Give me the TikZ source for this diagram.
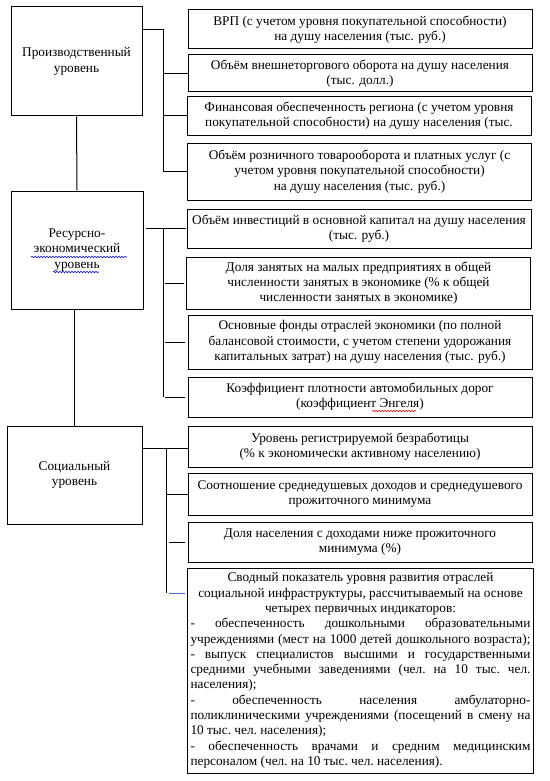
\documentclass[tikz,border=0pt]{standalone}
\usepackage{fontspec}
\setmainfont{Liberation Serif}
\usetikzlibrary{calc,decorations.pathmorphing}
\definecolor{wblue}{RGB}{68,114,196}
\newcommand\jl[1]{\makebox[340pt][s]{#1}}
\newcommand\cl[1]{\makebox[340pt][c]{#1}}
\newcommand\lfl[1]{\makebox[340pt][l]{#1}}
\begin{document}
\begin{tikzpicture}[x=1pt,y=-1pt,
  every node/.style={font=\fontsize{13.3}{15.3}\selectfont},
  lbox/.style={draw, line width=1pt, align=center, inner sep=2pt},
  rbox/.style={draw, line width=1pt, align=center, inner sep=1pt, minimum width=344pt},
  conn/.style={line width=1pt},
  spell/.style={line width=0.6pt, decorate, decoration={snake, amplitude=0.7pt, segment length=3pt}}]
\useasboundingbox (0,0) rectangle (549,781);

% left level boxes
\node[lbox, minimum width=131pt, minimum height=109pt] (P) at (76.5,61.5) {Производственный\\уровень};
\node[lbox, minimum width=132pt, minimum height=118pt] (R) at (77,250) {Ресурсно-\\экономический\\уровень};
\node[lbox, minimum width=135pt, minimum height=98pt] (S) at (74.5,475) {Социальный\\уровень};

% right indicator boxes
\node[rbox, minimum height=39pt] (b1) at (360,29.5) {ВРП (с учетом уровня покупательной способности)\\на душу населения (тыс. руб.)};
\node[rbox, minimum height=37pt] (b2) at (360,73.5) {Объём внешнеторгового оборота на душу населения\\(тыс. долл.)};
\node[rbox, minimum height=38pt] (b3) at (359,116) {Финансовая обеспеченность региона (с учетом уровня\\покупательной способности) на душу населения (тыс.};
\node[rbox, minimum height=57pt] (b4) at (359.5,171.5) {Объём розничного товарооборота и платных услуг (с\\учетом уровня покупательной способности)\\на душу населения (тыс. руб.)};
\node[rbox, minimum height=39pt] (b5) at (359,228.5) {Объём инвестиций в основной капитал на душу населения\\(тыс. руб.)};
\node[rbox, minimum height=52pt] (b6) at (358.5,283) {Доля занятых на малых предприятиях в общей\\численности занятых в экономике (\% к общей\\численности занятых в экономике)};
\node[rbox, minimum height=54pt] (b7) at (360,342) {Основные фонды отраслей экономики (по полной\\балансовой стоимости, с учетом степени удорожания\\капитальных затрат) на душу населения (тыс. руб.)};
\node[rbox, minimum height=40pt] (b8) at (360,397) {Коэффициент плотности автомобильных дорог\\(коэффициент Энгеля)};
\node[rbox, minimum height=41pt] (b9) at (360,446.5) {Уровень регистрируемой безработицы\\(\% к экономически активному населению)};
\node[rbox, minimum height=42pt] (b10) at (360,494) {Соотношение среднедушевых доходов и среднедушевого\\прожиточного минимума};
\node[rbox, minimum height=40pt] (b11) at (360,542) {Доля населения с доходами ниже прожиточного\\минимума (\%)};
\node[draw, line width=1pt, minimum width=346pt, minimum height=205pt, text width=340pt, align=left, inner sep=0pt] (b12) at (360.5,670.5) {%
\spaceskip=0pt\xspaceskip=0pt\frenchspacing
\cl{Сводный показатель уровня развития отраслей}\\
\cl{социальной инфраструктуры, рассчитываемый на основе}\\
\cl{четырех первичных индикаторов:}\\
\jl{- обеспеченность дошкольными образовательными}\\
\jl{учреждениями (мест на 1000 детей дошкольного возраста);}\\
\jl{- выпуск специалистов высшими и государственными}\\
\jl{средними учебными заведениями (чел. на 10 тыс. чел.}\\
\lfl{населения);}\\
\jl{- обеспеченность населения амбулаторно-}\\
\jl{поликлиническими учреждениями (посещений в смену на}\\
\lfl{10 тыс. чел. населения);}\\
\jl{- обеспеченность врачами и средним медицинским}\\
\lfl{персоналом (чел. на 10 тыс. чел. населения).}};

% spell-check underlines
\draw[spell, blue] ($(R.center)+(-46,7)$) -- ($(R.center)+(50,7)$);
\draw[spell, blue] ($(R.center)+(-24,22)$) -- ($(R.center)+(22,22)$);
\draw[spell, red] ($(b8.center)+(12,14)$) -- ($(b8.center)+(56,14)$);

% vertical links between levels
\draw[conn] (P.south) -- (R.north);
\draw[conn] (S.north |- R.south) -- (S.north);

% group 1
\coordinate (j1) at (163,30);
\draw[conn] (P.east |- j1) -- (j1) -- (j1 |- b4.west) -- (b4.west);
\draw[conn] (j1 |- b2.west) -- (b2.west);
\draw[conn] (j1 |- b3.west) -- (b3.west);

% group 2
\coordinate (j2) at (163,229);
\draw[conn] ($(R.east |- b5.west)+(2,0)$) -- ($(b5.west)+(-1,0)$);
\draw[conn] (j2 |- b5.west) -- (j2 |- b8.west);
\draw[conn] ($(j2 |- b6.west)+(2,0)$) -- ($(b6.west)+(-2,0)$);
\draw[conn] ($(j2 |- b7.west)+(2,0)$) -- ($(b7.west)+(-3,0)$);
\draw[conn] ($(j2 |- b8.west)+(2,0)$) -- ($(b8.west)+(-3,0)$);

% group 3
\coordinate (j3) at (166,448);
\coordinate (y593) at (0,593);
\draw[conn] (S.east |- j3) -- (b9.west |- j3);
\draw[conn] (j3) -- (j3 |- y593);
\draw[conn] (j3 |- b10.west) -- (b10.west);
\draw[conn] ($(j3 |- b11.west)+(3,0)$) -- ($(b11.west)+(-3,0)$);
\coordinate (k12) at ($(b12.west |- y593)+(-2,0)$);
\draw[conn, wblue] ($(j3 |- y593)+(3,0)$) -- (k12);
\end{tikzpicture}
\end{document}
